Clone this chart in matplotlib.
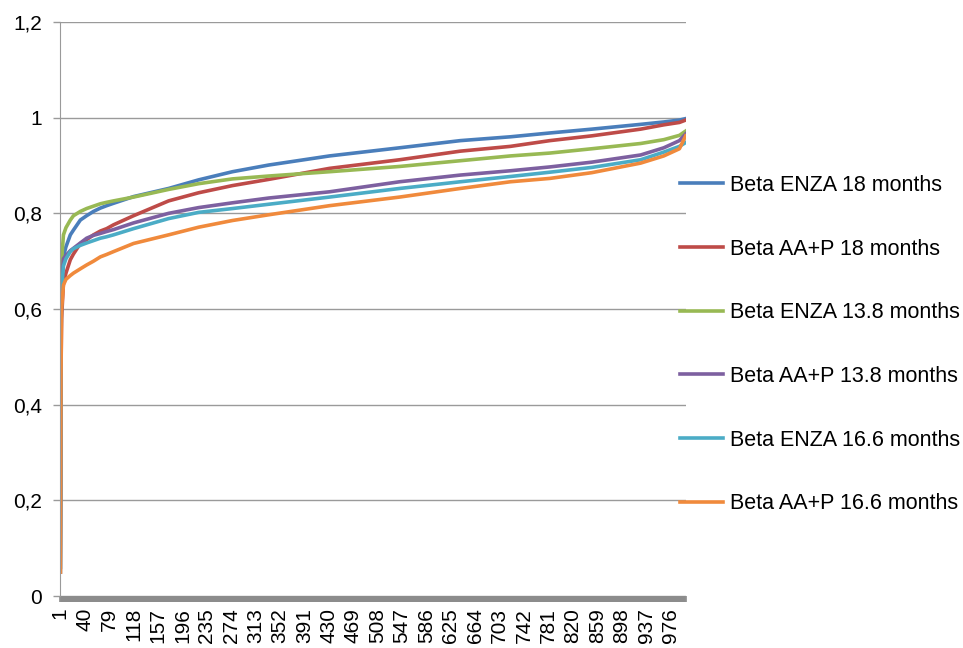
import matplotlib

matplotlib.use("Agg")

import matplotlib.pyplot as plt
from matplotlib.ticker import FixedLocator, MultipleLocator

plt.rcParams["font.family"] = ["Liberation Sans", "DejaVu Sans"]

# sample positions (1..1000)
sample_x = [1, 2, 3, 6, 10, 17, 22, 33, 43, 54, 65, 75, 86, 118, 174, 222,
            276, 334, 431, 543, 640, 720, 783, 850, 928, 965, 990, 1000]

enza_18 = [0.06, 0.55, 0.66, 0.71, 0.73, 0.755, 0.765, 0.786, 0.795, 0.804,
           0.811, 0.816, 0.821, 0.835, 0.852, 0.870, 0.887, 0.901, 0.920,
           0.937, 0.952, 0.960, 0.968, 0.976, 0.986, 0.991, 0.995, 0.998]
aap_18 = [0.05, 0.45, 0.58, 0.655, 0.675, 0.703, 0.715, 0.737, 0.745, 0.755,
          0.763, 0.768, 0.776, 0.795, 0.826, 0.843, 0.858, 0.871, 0.894,
          0.912, 0.930, 0.940, 0.952, 0.962, 0.976, 0.985, 0.990, 0.995]
enza_138 = [0.05, 0.55, 0.70, 0.755, 0.77, 0.786, 0.795, 0.804, 0.81, 0.815,
            0.82, 0.823, 0.826, 0.834, 0.850, 0.862, 0.872, 0.878, 0.887,
            0.898, 0.910, 0.920, 0.926, 0.935, 0.946, 0.954, 0.963, 0.972]
aap_138 = [0.05, 0.50, 0.65, 0.705, 0.712, 0.722, 0.727, 0.738, 0.748, 0.754,
           0.758, 0.762, 0.766, 0.780, 0.800, 0.812, 0.822, 0.832, 0.845,
           0.866, 0.880, 0.889, 0.897, 0.907, 0.922, 0.937, 0.952, 0.966]
enza_166 = [0.06, 0.50, 0.64, 0.69, 0.705, 0.72, 0.726, 0.733, 0.738, 0.743,
            0.748, 0.751, 0.755, 0.768, 0.789, 0.802, 0.810, 0.819, 0.834,
            0.852, 0.866, 0.877, 0.886, 0.896, 0.912, 0.928, 0.940, 0.948]
aap_166 = [0.05, 0.45, 0.60, 0.65, 0.662, 0.67, 0.675, 0.684, 0.692, 0.700,
           0.709, 0.714, 0.720, 0.737, 0.755, 0.771, 0.785, 0.797, 0.816,
           0.834, 0.852, 0.866, 0.873, 0.885, 0.905, 0.920, 0.935, 0.962]

series = [
    ("Beta ENZA 18 months", enza_18, "#4A7EBB"),
    ("Beta AA+P 18 months", aap_18, "#BE4B48"),
    ("Beta ENZA 13.8 months", enza_138, "#98B954"),
    ("Beta AA+P 13.8 months", aap_138, "#7D60A0"),
    ("Beta ENZA 16.6 months", enza_166, "#4BACC6"),
    ("Beta AA+P 16.6 months", aap_166, "#F08A3C"),
]

x_ticks = list(range(1, 1001, 39))
y_ticks = [0, 0.2, 0.4, 0.6, 0.8, 1.0, 1.2]
y_labels = ["0", "0,2", "0,4", "0,6", "0,8", "1", "1,2"]

grey = "#9a9a9a"

fig = plt.figure(figsize=(9.63, 6.48), dpi=100)
ax = fig.add_axes([60 / 963, 52 / 648, 626 / 963, 574 / 648])

for label, values, color in series:
    ax.plot(sample_x, values, color=color, lw=2.6, label=label,
            solid_joinstyle="round")

ax.set_xlim(0.5, 1000.5)
ax.set_ylim(0, 1.2)

ax.set_yticks(y_ticks)
ax.set_yticklabels(y_labels)
ax.yaxis.grid(True, color=grey, lw=1)
ax.set_axisbelow(True)

ax.xaxis.set_major_locator(FixedLocator(x_ticks))
ax.xaxis.set_minor_locator(MultipleLocator(1))
ax.set_xticklabels([str(t) for t in x_ticks], rotation=90)

ax.tick_params(axis="y", length=5, color=grey, width=1, pad=8, labelsize=15)
ax.tick_params(axis="x", which="both", length=4.5, color="#8c8c8c",
               width=1.2, pad=4, labelsize=15)

for side in ("top", "right", "bottom"):
    ax.spines[side].set_visible(False)
ax.spines["left"].set_color(grey)

fig.legend(
    loc="upper left",
    bbox_to_anchor=(680 / 963, 1 - 175 / 648),
    frameon=False,
    fontsize=15.5,
    handlelength=2.0,
    handletextpad=0.3,
    labelspacing=1.98,
    borderpad=0,
    borderaxespad=0,
)

fig.savefig("out.png", dpi=100)
plt.close(fig)
